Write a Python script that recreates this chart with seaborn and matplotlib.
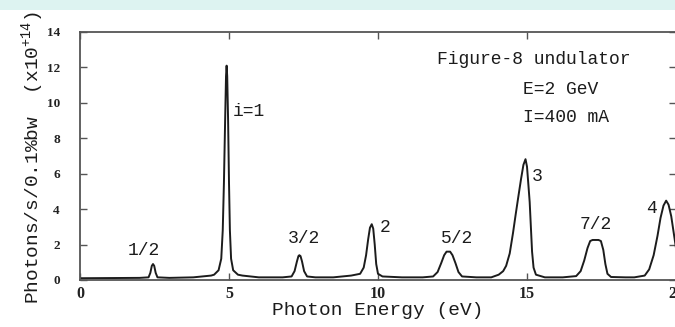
import matplotlib
matplotlib.use("Agg")
import matplotlib.pyplot as plt
import seaborn as sns
import pandas as pd
from matplotlib.patches import Rectangle

# Spectrum of the figure-8 undulator: photon energy (eV) vs flux (1e14 photons/s/0.1%bw)
energy = [
    0.0, 1.0, 2.0, 2.30, 2.36, 2.41, 2.45, 2.49, 2.54, 2.60, 3.0,
    3.8, 4.4, 4.5, 4.65, 4.74, 4.79, 4.83, 4.87, 4.90, 4.92, 4.94, 4.97,
    5.00, 5.03, 5.07, 5.14, 5.30, 5.45, 6.0,
    6.8, 7.10, 7.20, 7.28, 7.33, 7.36, 7.40, 7.45, 7.52, 7.62, 7.9,
    8.5, 9.1, 9.40, 9.52, 9.60, 9.67, 9.73, 9.79, 9.84, 9.89, 9.94,
    10.00, 10.15, 10.8,
    11.5, 11.85, 12.00, 12.12, 12.22, 12.30, 12.42, 12.50, 12.60, 12.70,
    12.82, 13.3,
    13.8, 14.05, 14.20, 14.30, 14.42, 14.53, 14.62, 14.70, 14.80, 14.88,
    14.95, 15.00, 15.05, 15.09, 15.13, 15.17, 15.22, 15.30, 15.6,
    16.2, 16.65, 16.80, 16.92, 17.03, 17.12, 17.20, 17.40, 17.48, 17.56,
    17.63, 17.70, 17.82, 18.3,
    18.6, 18.95, 19.10, 19.25, 19.38, 19.48, 19.58, 19.67, 19.75, 19.84,
    19.92, 20.0,
]
flux = [
    0.10, 0.11, 0.12, 0.15, 0.40, 0.80, 0.90, 0.80, 0.40, 0.15, 0.12,
    0.15, 0.25, 0.30, 0.55, 1.20, 2.80, 5.50, 9.00, 11.5, 12.1, 11.5, 9.00,
    5.50, 2.80, 1.20, 0.55, 0.30, 0.25, 0.15,
    0.15, 0.20, 0.50, 1.05, 1.35, 1.40, 1.35, 1.05, 0.50, 0.20, 0.15,
    0.15, 0.25, 0.35, 0.70, 1.40, 2.30, 2.95, 3.15, 2.90, 2.00, 0.90,
    0.35, 0.20, 0.15,
    0.15, 0.20, 0.45, 0.95, 1.40, 1.60, 1.60, 1.40, 0.95, 0.45,
    0.20, 0.15,
    0.15, 0.30, 0.50, 0.80, 1.50, 2.65, 3.70, 4.60, 5.70, 6.50,
    6.82, 6.40, 5.30, 4.40, 3.00, 1.60, 0.70, 0.30, 0.15,
    0.15, 0.22, 0.50, 1.10, 1.80, 2.20, 2.26, 2.26, 2.20, 1.70,
    0.90, 0.35, 0.17, 0.15,
    0.15, 0.25, 0.60, 1.40, 2.50, 3.50, 4.20, 4.48, 4.25, 3.60,
    2.70, 1.80,
]

# Harmonic labels and where they sit
harmonic_labels = ["1/2", "i=1", "3/2", "2", "5/2", "3", "7/2", "4"]
harmonic_x = [2.13, 5.14, 7.52, 10.23, 12.65, 15.33, 17.30, 19.18]
harmonic_y = [1.69, 9.50, 2.32, 2.94, 2.32, 5.84, 3.14, 4.04]
harmonic_ha = ["center", "left", "center", "center", "center", "center", "center", "center"]

info_lines = ["Figure-8 undulator", "E=2 GeV", "I=400 mA"]
info_x = [11.98, 14.86, 14.86]
info_y = [12.42, 10.73, 9.20]

x_ticks = [0, 5, 10, 15, 20]
x_tick_labels = ["0", "5", "10", "15", "20"]
y_ticks = [0, 2, 4, 6, 8, 10, 12, 14]
y_tick_labels = ["0", "2", "4", "6", "8", "10", "12", "14"]

sns.set_theme(style="ticks")
plt.rcParams["font.family"] = ["Liberation Mono", "DejaVu Sans Mono"]
plt.rcParams["mathtext.fontset"] = "custom"
plt.rcParams["mathtext.rm"] = "Liberation Mono"
plt.rcParams["mathtext.it"] = "Liberation Mono"

W, H = 675, 327
fig = plt.figure(figsize=(W / 100, H / 100), dpi=100)
fig.patch.set_facecolor("white")
# pale band along the top edge
fig.patches.append(Rectangle((0, 1 - 9.5 / H), 1, 9.5 / H, transform=fig.transFigure,
                             facecolor="#ddf3f1", edgecolor="none", zorder=0))

ax = fig.add_axes([80 / W, 1 - 280 / H, 596 / W, 248 / H])
ax.set_facecolor("white")

df = pd.DataFrame({"energy": energy, "flux": flux})
sns.lineplot(data=df, x="energy", y="flux", ax=ax, color="#1c1c1c",
             linewidth=1.4, estimator=None)

ax.set_xlim(0, 20)
ax.set_ylim(0, 14)
tick_font = dict(fontfamily="Liberation Serif", fontweight="bold", color="#222222")
ax.set_xticks(x_ticks, labels=x_tick_labels, fontsize=11.5, **tick_font)
ax.set_yticks(y_ticks, labels=y_tick_labels, fontsize=9.5, **tick_font)

for s in ax.spines.values():
    s.set_visible(True)
    s.set_color("#555555")
    s.set_linewidth(1.3)

ax.tick_params(axis="both", direction="in", length=5, width=1.0, color="#555555",
               top=True, right=True)
ax.tick_params(axis="x", pad=4)
ax.tick_params(axis="y", pad=14.5)

ax.set_xlabel("Photon Energy (eV)", fontsize=14, color="#1c1c1c", labelpad=0)
ax.set_ylabel("")
fig.text(33 / W, 1 - 157 / H, "Photons/s/0.1%bw  (x10$^{+14}$)", rotation=90,
         ha="center", va="center", fontsize=14, color="#1c1c1c")

for t, x, y, ha in zip(harmonic_labels, harmonic_x, harmonic_y, harmonic_ha):
    ax.text(x, y, t, ha=ha, va="center", fontsize=13, color="#1c1c1c")

for t, x, y in zip(info_lines, info_x, info_y):
    ax.text(x, y, t, ha="left", va="center", fontsize=13, color="#1c1c1c")

fig.savefig("out.png", dpi=100)
